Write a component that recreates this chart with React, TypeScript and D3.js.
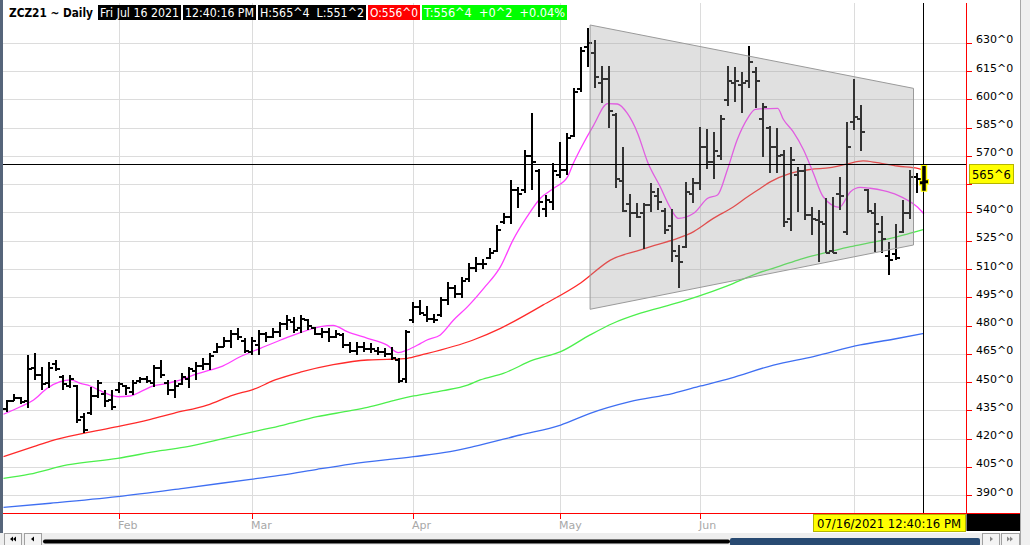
import React from 'react';
import * as d3 from 'd3';

const W = 1030;
const H = 545;

// daily bars, first visible bar is Jan 7 2021, last is Jul 16 2021
const highs = [
  441, 444, 442.5, 464.5, 465.5, 458.5, 461, 462, 454, 454,
  448.7, 433.7, 447.8, 451.4, 446, 446, 450.5, 448.7, 451.4, 453,
  453.5, 459.3, 462, 451.4, 451.4, 455, 458.4, 461, 462.9, 465.5,
  470.8, 474.3, 477.9, 478.8, 473.5, 474.3, 477.9, 477, 478.8, 482.3,
  485.8, 485, 485.8, 484, 479.7, 478.8, 478.8, 477.9, 476.1, 471.7,
  471.7, 471.7, 470.8, 469, 468.2, 469, 462.9, 477.9, 493, 493.8,
  490.6, 486.4, 495.6, 503.5, 501.8, 506.2, 513.6, 516.8, 515.4, 521.6,
  533.6, 540.2, 557.5, 554, 573.4, 592.9, 563.1, 549.5, 566.3, 577.8,
  582.6, 606.1, 628.2, 638, 631.8, 618, 618, 592.9, 575.2, 549.9,
  545.1, 545.5, 555.7, 553.1, 542.5, 541.9, 523, 556.6, 558.4, 585.8,
  584.4, 583.1, 592, 618, 617.6, 615, 628.6, 617.6, 598.5, 586.1,
  585.2, 573.4, 574.8, 564.6, 565.4, 543.3, 541.6, 547.7, 548.6, 558.9,
  588.4, 610.9, 597.3, 552.5, 545.1, 538.4, 524.8, 534.1, 546.9, 562.8,
  561, 565.5,
];
const lows = [
  434.5, 440, 438.5, 436.5, 451.5, 446, 447, 456, 446, 447,
  428.4, 423, 432.8, 441.6, 437, 435.4, 444.3, 443.4, 443.4, 449.6,
  449.6, 447.8, 452.2, 443.4, 441.6, 448.7, 446.9, 451.4, 456.7, 456.7,
  465.5, 469, 468.2, 472.6, 465.5, 464.6, 464.6, 471.7, 473.5, 474.3,
  477.9, 476.1, 476.1, 477.9, 475.2, 473.5, 471.7, 473.5, 468.2, 465.5,
  464.6, 466.4, 465.5, 464.6, 463.7, 462, 449.6, 449.6, 481.4, 485.9,
  482.3, 481.4, 485, 491.2, 494.7, 494.7, 503.5, 508.9, 510.1, 515.4,
  519.5, 534.1, 534.1, 542.5, 550.8, 552.2, 538, 538, 541.6, 558.4,
  560.1, 580.5, 604.3, 617.6, 606.1, 598.5, 584.9, 553.1, 540.7, 527.1,
  537.1, 520.7, 540.7, 541.6, 528.8, 514.2, 500, 521.2, 545.1, 552.2,
  563.1, 557.8, 568.1, 596.7, 599.1, 592.9, 606.1, 595.5, 569.9, 561,
  561, 532.7, 530.6, 540.7, 536.3, 528.3, 514.1, 518.6, 518.6, 541.6,
  528.3, 584, 573, 539.8, 519.5, 518.9, 507.1, 515, 529.5, 536.6,
  550.8, 551.25,
];
const opens = [
  436, 440, 442, 440, 458, 454, 450, 460, 453, 448,
  448, 432, 434, 443, 444, 441, 446, 448, 445, 451,
  452, 450, 458, 450, 446, 449, 452, 456, 459, 460,
  466, 469, 472, 476, 472, 466, 470, 476, 474, 477,
  481, 482, 479, 483, 479, 476, 477, 474, 475, 470,
  467, 469, 468, 467, 466, 465, 462, 452, 483, 490,
  486, 484, 486, 494, 500, 497, 505, 511, 513, 516,
  520, 535, 538, 552, 552, 570, 562, 542, 546, 560,
  563, 581, 606, 628, 625, 609, 611, 592, 557, 545,
  540, 540, 544, 549, 541, 533, 517, 522, 550, 556,
  575, 567, 570, 600, 609, 608, 610, 615, 590, 585,
  575, 571, 537, 560, 562, 539, 536, 534, 520, 550,
  530, 588, 590, 552, 540, 530, 517, 518, 530, 540,
  559, 556,
];
const closes = [
  440, 442, 439.5, 457, 454, 449, 458, 457, 449, 452,
  430, 425, 443, 450, 440, 437, 449, 447, 450, 452,
  451, 458, 454, 446, 448, 453, 457, 459, 460, 464,
  469, 472, 476, 474, 467, 472, 476, 474, 477, 481,
  483, 478, 484, 480, 476, 477, 474, 476, 470, 467,
  469, 468, 468, 466, 465, 463, 451, 477, 490, 487,
  484, 483, 494, 500, 497, 504, 511, 513, 513, 519,
  531, 538, 552, 550, 570, 567, 546, 547, 562, 563,
  580, 604, 626, 630, 612, 611, 594, 558, 541, 540,
  538, 544, 551, 546, 531, 520, 514, 551, 556, 575,
  567, 573, 590, 610, 610, 609, 620, 610, 596, 575,
  570, 535, 568, 562, 539, 537, 535, 519, 519, 549,
  575, 591, 583, 541, 534, 526, 515, 516, 540, 559,
  558, 556.5,
];

// month starts (bar index); the Jul label sits under the date tag
const monthBarIdx = [16, 35, 58, 79, 99, 121];
const monthLabels = ['Feb', 'Mar', 'Apr', 'May', 'Jun'];

const priceTicks = [390, 405, 420, 435, 450, 465, 480, 495, 510, 525, 540, 555, 570, 585, 600, 615, 630];

// moving averages (bar position, value)
const maFastIdx = [-0.5, 1.9, 3.8, 5.7, 7.6, 9.1, 10.5, 11.9, 13.3, 14.8, 15.9, 17.6, 19.1, 20.9, 22.9, 24.8, 26.6, 29.1, 30.5, 33.3, 36.2, 39.1, 41.9, 44.8, 46.6, 48.6, 51.5, 54.3, 55.9, 57.2, 59.1, 60, 61.9, 63.8, 65.8, 68.1, 70.5, 72.3, 74.3, 76.2, 78.1, 80.1, 80.9, 81.9, 83.8, 85.8, 87.2, 88.6, 90.1, 91.5, 93.3, 94.8, 95.9, 98.1, 100.1, 101.5, 102.9, 104.3, 105.8, 106.9, 110.1, 110.9, 112.3, 113.8, 115.2, 116.6, 118.9, 120.5, 121.9, 123.3, 125.2, 127.2, 128.6, 130.1, 131];
const maFastVal = [433.2, 437.2, 440.8, 446.9, 450.5, 451.4, 449.6, 448.2, 445.7, 443.4, 442.5, 442.9, 445.2, 448.2, 449.6, 451.4, 454, 456.7, 458.3, 463.7, 468.2, 472.6, 476.5, 479.7, 480.4, 477, 473.5, 469.9, 465.9, 467.3, 470.8, 472.6, 475.3, 483.2, 490.3, 500, 511.5, 525.7, 538, 547.8, 553.1, 559.3, 566.3, 573.8, 586.5, 598, 597.8, 592.9, 582.2, 567.2, 554, 542.5, 537.1, 539.8, 547.8, 549.5, 562.8, 578.7, 590.2, 595, 595.5, 589.7, 583.1, 573.4, 561, 548.6, 543, 551.3, 553.6, 553.1, 551.8, 549.5, 546.9, 543, 539.4];

const maMidIdx = [-0.5, 3.8, 6.2, 10.9, 15.8, 20.5, 23.8, 28.6, 32.3, 35.2, 38.3, 41.9, 46.6, 51.5, 54.3, 57.2, 59.1, 66.6, 70.5, 76.6, 82, 86.2, 90.5, 92.5, 95.8, 98.1, 100.9, 103.8, 105.8, 107.6, 109.1, 111.9, 114.8, 117.6, 120, 122.3, 124.3, 127.2, 130.1, 131];
const maMidVal = [410.7, 416, 419, 423.1, 426.6, 430.5, 433.7, 438.1, 443.4, 446.4, 451.4, 455.5, 459.5, 462, 462.3, 462.9, 464.6, 472.6, 478.8, 491.2, 503, 515, 520.4, 522.8, 526.5, 530.1, 537.1, 543.3, 548.6, 553, 556.6, 561, 563.1, 564, 566, 567.6, 566.7, 564.9, 563.7, 562.8];

const maSlowIdx = [-0.5, 3.2, 8.6, 15.8, 21.9, 25.8, 30.1, 34.8, 39.5, 44.3, 49.1, 51.5, 55.2, 58.1, 62.3, 65.8, 67.6, 70.9, 75.2, 79.1, 83.3, 86.6, 90.5, 95.2, 98.6, 102.9, 107.2, 110.5, 113.3, 117.6, 120.5, 123.3, 126.2, 128.6, 131];
const maSlowVal = [399.2, 401.4, 406.3, 409.8, 413.9, 416, 419.6, 423.6, 427.5, 431.9, 435.1, 436.9, 440.4, 442.9, 445.7, 448.7, 451.4, 454.9, 462, 466.4, 475.3, 481.5, 486.8, 491.7, 495.6, 501.3, 508, 511.9, 515.4, 519.5, 522.1, 524.2, 526.5, 528.8, 531.3];

const maLongIdx = [-0.5, 6.2, 15.8, 25.2, 34.8, 39.5, 44.3, 49.1, 58.1, 63.3, 66.6, 73.3, 79.1, 83.3, 89, 95.2, 99.1, 103.3, 109.5, 115.2, 121.9, 126.6, 131];
const maLongVal = [383.8, 386, 389.5, 393.9, 398.7, 401, 404, 406.8, 410.7, 413.4, 416, 422.2, 427.5, 433.7, 439.9, 444.3, 448.2, 452.3, 459.3, 463.8, 470, 473, 476.1];

// triangle drawn on the chart
const wedgeIdx = [83.3, 129.5];
const wedgeUpper = [639.7, 606.1];
const wedgeLower = [488.9, 523];

const lastPrice = 565.75;
const header = [
  { text: 'Fri Jul 16 2021', bg: '#000000', w: 83 },
  { text: '12:40:16 PM', bg: '#000000', w: 73 },
  { text: 'H:565^4  L:551^2', bg: '#000000', w: 108 },
  { text: 'O:556^0', bg: '#ff0000', w: 52 },
  { text: 'T:556^4  +0^2  +0.04%', bg: '#00ff00', w: 145 },
];

const PLOT = { left: 3, right: 966.5, top: 3, bottom: 513.5 };
const x = d3.scaleLinear().domain([0, closes.length - 1]).range([7, 924]);
const y = d3.scaleLinear().domain([390, 630]).range([495.7, 43.3]);

const maLine = (idx: number[], vals: number[]) =>
  d3.line<number>()
    .x((d, i) => x(idx[i]))
    .y(d => y(d))
    .curve(d3.curveMonotoneX)(vals) || '';

const labelFont = '"DejaVu Sans", Verdana, sans-serif';

const App: React.FC = () => {
  const last = closes.length - 1;
  const lx = x(last);
  const tagY = y(lastPrice);
  const barPath = (i: number) =>
    `M${x(i)},${y(highs[i])}V${y(lows[i])}M${x(i) - 4},${y(opens[i])}H${x(i)}M${x(i)},${y(closes[i])}H${x(i) + 4}`;

  const wedge = `M${x(wedgeIdx[0])},${y(wedgeUpper[0])}L${x(wedgeIdx[1])},${y(wedgeUpper[1])}L${x(wedgeIdx[1])},${y(wedgeLower[1])}L${x(wedgeIdx[0])},${y(wedgeLower[0])}Z`;

  let hx = 98;
  const headerBoxes = header.map(h => {
    const b = { ...h, x: hx };
    hx += h.w + 2;
    return b;
  });

  // axis labels hidden behind the last price tag are not drawn
  const visibleTicks = priceTicks.filter(t => Math.abs(y(t) - 3 - (tagY + 9.5)) > 12);

  return (
    <div style={{ position: 'fixed', left: 0, top: 0 }}>
      <svg width={W} height={H} style={{ display: 'block', background: '#ffffff' }}>
        <defs>
          <clipPath id="plotClip">
            <rect x={PLOT.left} y={PLOT.top} width={PLOT.right - PLOT.left} height={PLOT.bottom - PLOT.top} />
          </clipPath>
        </defs>

        {/* grid */}
        <g stroke="#dcdcdc" strokeWidth={1} shapeRendering="crispEdges">
          {priceTicks.map(t => (
            <line key={t} x1={PLOT.left} x2={PLOT.right} y1={y(t)} y2={y(t)} />
          ))}
          {monthBarIdx.map(m => (
            <line key={m} x1={x(m)} x2={x(m)} y1={PLOT.top} y2={PLOT.bottom} />
          ))}
        </g>

        <g clipPath="url(#plotClip)">
          {/* moving averages */}
          <path d={maLine(maLongIdx, maLongVal)} fill="none" stroke="#3f6ff2" strokeWidth={1.3} />
          <path d={maLine(maSlowIdx, maSlowVal)} fill="none" stroke="#4cef4c" strokeWidth={1.3} />
          <path d={maLine(maMidIdx, maMidVal)} fill="none" stroke="#ff2a2a" strokeWidth={1.3} />
          <path d={maLine(maFastIdx, maFastVal)} fill="none" stroke="#ff40ff" strokeWidth={1.3} />

          {/* price bars */}
          <g stroke="#000000" strokeWidth={2} fill="none" shapeRendering="crispEdges">
            {closes.slice(0, last).map((c, i) => (
              <path key={i} d={barPath(i)} />
            ))}
          </g>

          {/* triangle overlay */}
          <path d={wedge} fill="#9f9f9f" fillOpacity={0.32} stroke="#9a9a9a" strokeWidth={1} />

          {/* crosshair */}
          <line x1={PLOT.left} x2={PLOT.right} y1={tagY} y2={tagY} stroke="#000" strokeWidth={1} shapeRendering="crispEdges" />
          <line x1={lx - 0.5} x2={lx - 0.5} y1={PLOT.top} y2={PLOT.bottom} stroke="#000" strokeWidth={1} shapeRendering="crispEdges" />

          {/* selected last bar */}
          <path d={`M${lx},${y(highs[last])}V${y(lows[last])}`} stroke="#ffff00" strokeWidth={6.5} fill="none" />
          <path d={`M${lx - 5},${y(opens[last])}H${lx}M${lx},${y(closes[last])}H${lx + 5}`} stroke="#ffff00" strokeWidth={5.5} fill="none" />
          <path d={`M${lx},${y(highs[last]) + 1}V${y(lows[last]) - 1}`} stroke="#000" strokeWidth={3.5} fill="none" />
          <path d={`M${lx - 4},${y(opens[last])}H${lx}M${lx},${y(closes[last])}H${lx + 4}`} stroke="#000" strokeWidth={3} fill="none" />
        </g>

        {/* price axis */}
        <line x1={PLOT.right} x2={PLOT.right} y1={PLOT.top} y2={PLOT.bottom} stroke="#ff0000" strokeWidth={1} shapeRendering="crispEdges" />
        <line x1={PLOT.left} x2={1020} y1={PLOT.bottom} y2={PLOT.bottom} stroke="#ff0000" strokeWidth={1} shapeRendering="crispEdges" />
        {priceTicks.map(t => (
          <line key={t} x1={PLOT.right} x2={PLOT.right + 5} y1={y(t)} y2={y(t)} stroke="#ff0000" shapeRendering="crispEdges" />
        ))}
        {visibleTicks.map(t => (
          <text key={t} x={976} y={y(t) - 3} dominantBaseline="middle" fontFamily={labelFont} fontSize={11} fill="#000">
            {`${t}^0`}
          </text>
        ))}

        {/* time axis */}
        {monthBarIdx.map(m => (
          <line key={m} x1={x(m)} x2={x(m)} y1={PLOT.bottom} y2={PLOT.bottom + 5} stroke="#ff0000" shapeRendering="crispEdges" />
        ))}
        {monthLabels.map((label, i) => (
          <text key={label} x={x(monthBarIdx[i]) - 1} y={529} fontFamily={labelFont} fontSize={11} fill="#a8a8a8">
            {label}
          </text>
        ))}

        {/* last price tag */}
        <rect x={969.5} y={164.5} width={44} height={19} fill="#ffff00" stroke="#b5b500" />
        <text x={972} y={178.5} fontFamily={labelFont} fontSize={11.5} fill="#000">565^6</text>

        {/* date tag */}
        <rect x={966.5} y={514} width={53.5} height={17} fill="#000" />
        <rect x={813.5} y={514.5} width={152} height={17} fill="#ffff00" stroke="#b5b500" />
        <text x={817} y={528} fontFamily={labelFont} fontSize={11.5} fill="#000" textLength={144} lengthAdjust="spacingAndGlyphs">
          07/16/2021 12:40:16 PM
        </text>

        {/* header */}
        <text x={9} y={17} fontFamily={labelFont} fontSize={12} fontWeight="bold" fill="#000" textLength={84} lengthAdjust="spacingAndGlyphs">
          ZCZ21 ~ Daily
        </text>
        {headerBoxes.map(b => (
          <g key={b.text}>
            <rect x={b.x} y={5} width={b.w} height={15} fill={b.bg} />
            <text x={b.x + 2} y={17} fontFamily={labelFont} fontSize={12} fill="#fff" textLength={b.w - 4} lengthAdjust="spacingAndGlyphs" xmlSpace="preserve">
              {b.text}
            </text>
          </g>
        ))}

        {/* window chrome */}
        <rect x={0} y={0} width={3} height={533} fill="#56657a" />
        <rect x={1020} y={0} width={10} height={545} fill="#f0f0f0" />
        <line x1={1020.5} x2={1020.5} y1={0} y2={545} stroke="#a8a8a8" />
        <rect x={0} y={533} width={1020} height={12} fill="#eeeeee" />
        <rect x={4.5} y={533.5} width={17} height={12} fill="#f4f4f4" stroke="#a0a0a0" />
        <rect x={24.5} y={533.5} width={17} height={12} fill="#f4f4f4" stroke="#a0a0a0" />
        <path d="M10,539 l3,-2.5 v5 z M13,539 l3,-2.5 v5 z" fill="#000" />
        <path d="M31,539 l3,-2.5 v5 z" fill="#000" />
        <line x1={45} x2={728} y1={541.5} y2={541.5} stroke="#000" strokeWidth={4} strokeLinecap="round" />
        <rect x={730} y={538} width={250} height={8} rx={2} fill="#284a72" />
        <rect x={982.5} y={533.5} width={17} height={12} fill="#f4f4f4" stroke="#a0a0a0" />
        <rect x={1001.5} y={533.5} width={18} height={12} fill="#f4f4f4" stroke="#a0a0a0" />
        <path d="M990,536.5 l3,2.5 l-3,2.5 z" fill="#888" />
        <path d="M1007,536.5 l3,2.5 l-3,2.5 z M1010,536.5 l3,2.5 l-3,2.5 z" fill="#888" />
      </svg>
    </div>
  );
};

export default App;
